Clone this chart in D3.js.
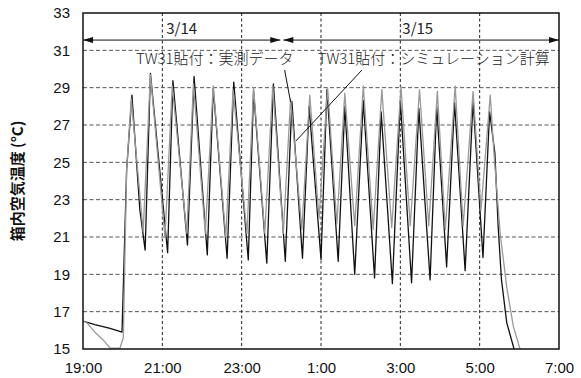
<!DOCTYPE html>
<html>
<head>
<meta charset="utf-8">
<script src="https://cdn.jsdelivr.net/npm/d3@7"></script>
<style>
  html, body { margin: 0; padding: 0; background: #fff; }
  svg { display: block; }
  .tick text { font-family: "Liberation Sans", Arial, sans-serif; font-size: 15px; fill: #111; }
  .jp { font-family: "Noto Sans CJK JP", sans-serif; }
</style>
</head>
<body>
<div id="chart"></div>
<script>
// minutes after 3/14 19:00, temperature (°C)
const measured = [
  [0, 16.5], [18, 16.3], [41, 16.1], [59, 15.9], [66, 24.6], [74, 28.6], [86, 22.45],
  [94, 20.3], [102, 29.77], [128, 20.16], [136, 29.37], [158, 20.57], [168, 29.6],
  [188, 20.04], [197, 28.97], [218, 19.86], [228, 29.3], [250, 19.77], [258, 28.8],
  [278, 19.6], [288, 29.2], [306, 19.7], [316, 28.25], [332, 19.86], [342, 28.0],
  [360, 19.8], [369, 28.9], [386, 19.7], [396, 28.0], [411, 19.0], [424, 28.3],
  [441, 18.8], [451, 27.7], [468, 18.5], [480, 28.3], [497, 18.55], [508, 27.9],
  [525, 18.7], [535, 28.0], [550, 19.4], [562, 28.2], [578, 19.2], [590, 28.3],
  [605, 19.9], [615, 27.7], [623, 25.5], [628, 21.55], [633, 18.7], [641, 16.4], [652, 15.0]
];
const simulated = [
  [0, 16.5], [6, 16.4], [18, 15.9], [30, 15.5], [41, 15.05], [56, 15.05], [61, 15.6],
  [66, 24.6], [73, 28.4], [91, 21.3], [102, 29.7], [124, 21.0], [135, 29.1], [157, 21.2],
  [167, 29.2], [185, 21.2], [197, 29.1], [216, 21.0], [227, 28.9], [248, 21.2], [258, 29.0],
  [275, 21.2], [287, 29.1], [303, 21.2], [314, 28.4], [331, 21.4], [343, 28.6], [357, 22.0],
  [370, 29.0], [384, 21.7], [396, 28.7], [411, 21.6], [424, 29.1], [439, 21.4], [452, 28.9],
  [467, 21.5], [481, 29.05], [495, 21.6], [509, 28.9], [523, 21.6], [536, 28.8], [548, 21.4],
  [563, 29.1], [575, 21.6], [590, 28.8], [602, 22.45], [616, 28.6], [622, 25.3], [631, 21.2],
  [641, 18.3], [651, 16.2], [661, 15.0]
];
const xTicks = [0, 120, 240, 360, 480, 600, 720];
const xTickLabels = ["19:00", "21:00", "23:00", "1:00", "3:00", "5:00", "7:00"];
const yTicks = [15, 17, 19, 21, 23, 25, 27, 29, 31, 33];
const dateSpans = [
  { label: "3/14", from: 0, to: 300, labelAt: 126 },
  { label: "3/15", from: 300, to: 720, labelAt: 483 }
];
const notes = [
  { text: "TW31貼付：実測データ", at: [80, 30.27], from: [305, 29.95], to: [314, 28.23] },
  { text: "TW31貼付：シミュレーション計算", at: [355, 30.27], from: [422, 29.95], to: [322, 26.14] }
];
const yTitle = "箱内空気温度 (°C)";

const W = 581, H = 378;
const margin = { top: 13, right: 22, bottom: 29, left: 83 };
const innerW = W - margin.left - margin.right;
const innerH = H - margin.top - margin.bottom;

const start = new Date(2024, 2, 14, 19, 0);
const t = m => d3.timeMinute.offset(start, m);

const x = d3.scaleTime().domain([t(0), t(720)]).range([0, innerW]);
const y = d3.scaleLinear().domain([15, 33]).range([innerH, 0]);

const svg = d3.select('#chart').append('svg')
  .attr('width', W).attr('height', H);

const defs = svg.append('defs');
defs.append('clipPath').attr('id', 'plot-clip')
  .append('rect').attr('width', innerW).attr('height', innerH);
defs.append('marker')
  .attr('id', 'arrow')
  .attr('viewBox', '0 0 10 6')
  .attr('refX', 10).attr('refY', 3)
  .attr('markerWidth', 12).attr('markerHeight', 6)
  .attr('markerUnits', 'userSpaceOnUse')
  .attr('orient', 'auto-start-reverse')
  .append('path').attr('d', 'M0,0 L10,3 L0,6 Z').attr('fill', '#111');

const g = svg.append('g').attr('transform', `translate(${margin.left},${margin.top})`);

// grid
g.append('g').selectAll('line')
  .data(yTicks.slice(1, -1))
  .join('line')
  .attr('x1', 0).attr('x2', innerW)
  .attr('y1', d => y(d)).attr('y2', d => y(d))
  .attr('stroke', '#555').attr('stroke-width', 1)
  .attr('stroke-dasharray', '4,2.5');

g.append('g').selectAll('line')
  .data(xTicks.slice(1, -1))
  .join('line')
  .attr('x1', d => x(t(d))).attr('x2', d => x(t(d)))
  .attr('y1', 0).attr('y2', innerH)
  .attr('stroke', '#222').attr('stroke-width', 1)
  .attr('stroke-dasharray', '3,2.5');

// series
const line = d3.line().x(d => x(t(d[0]))).y(d => y(d[1]));
const plot = g.append('g').attr('clip-path', 'url(#plot-clip)');
plot.append('path').datum(measured)
  .attr('d', line).attr('fill', 'none')
  .attr('stroke', '#111').attr('stroke-width', 1.3).attr('stroke-linejoin', 'round');
plot.append('path').datum(simulated)
  .attr('d', line).attr('fill', 'none')
  .attr('stroke', '#999').attr('stroke-width', 1.3).attr('stroke-linejoin', 'round');

// frame
g.append('rect')
  .attr('width', innerW).attr('height', innerH)
  .attr('fill', 'none').attr('stroke', '#111').attr('stroke-width', 1.5);

// axes
g.append('g')
  .attr('transform', `translate(0,${innerH})`)
  .call(d3.axisBottom(x)
    .tickValues(xTicks.map(t))
    .tickFormat((d, i) => xTickLabels[i])
    .tickSize(0).tickPadding(13.5))
  .call(a => a.select('.domain').remove());

g.append('g')
  .call(d3.axisLeft(y).tickValues(yTicks).tickFormat(d3.format('d'))
    .tickSize(0).tickPadding(13))
  .call(a => a.select('.domain').remove());

// date spans
const arrowY = y(31.55);
dateSpans.forEach(s => {
  g.append('line')
    .attr('x1', x(t(s.from)) + (s.from === 0 ? 0 : 2)).attr('x2', x(t(s.to)) - (s.to === 720 ? 0 : 1))
    .attr('y1', arrowY).attr('y2', arrowY)
    .attr('stroke', '#111').attr('stroke-width', 1)
    .attr('marker-start', 'url(#arrow)').attr('marker-end', 'url(#arrow)');
  g.append('text').attr('class', 'jp')
    .attr('x', x(t(s.labelAt))).attr('y', y(31.85))
    .attr('font-size', 15).attr('fill', '#222')
    .text(s.label);
});

// notes
notes.forEach(n => {
  g.append('text').attr('class', 'jp')
    .attr('x', x(t(n.at[0]))).attr('y', y(n.at[1]))
    .attr('font-size', 15).attr('font-weight', 300).attr('fill', '#222')
    .text(n.text);
  g.append('line')
    .attr('x1', x(t(n.from[0]))).attr('y1', y(n.from[1]))
    .attr('x2', x(t(n.to[0]))).attr('y2', y(n.to[1]))
    .attr('stroke', '#111').attr('stroke-width', 1);
});

// y title
svg.append('text').attr('class', 'jp')
  .attr('transform', `translate(23,${margin.top + innerH / 2}) rotate(-90)`)
  .attr('text-anchor', 'middle')
  .attr('font-size', 15).attr('font-weight', 700).attr('fill', '#111')
  .text(yTitle);
</script>
</body>
</html>
